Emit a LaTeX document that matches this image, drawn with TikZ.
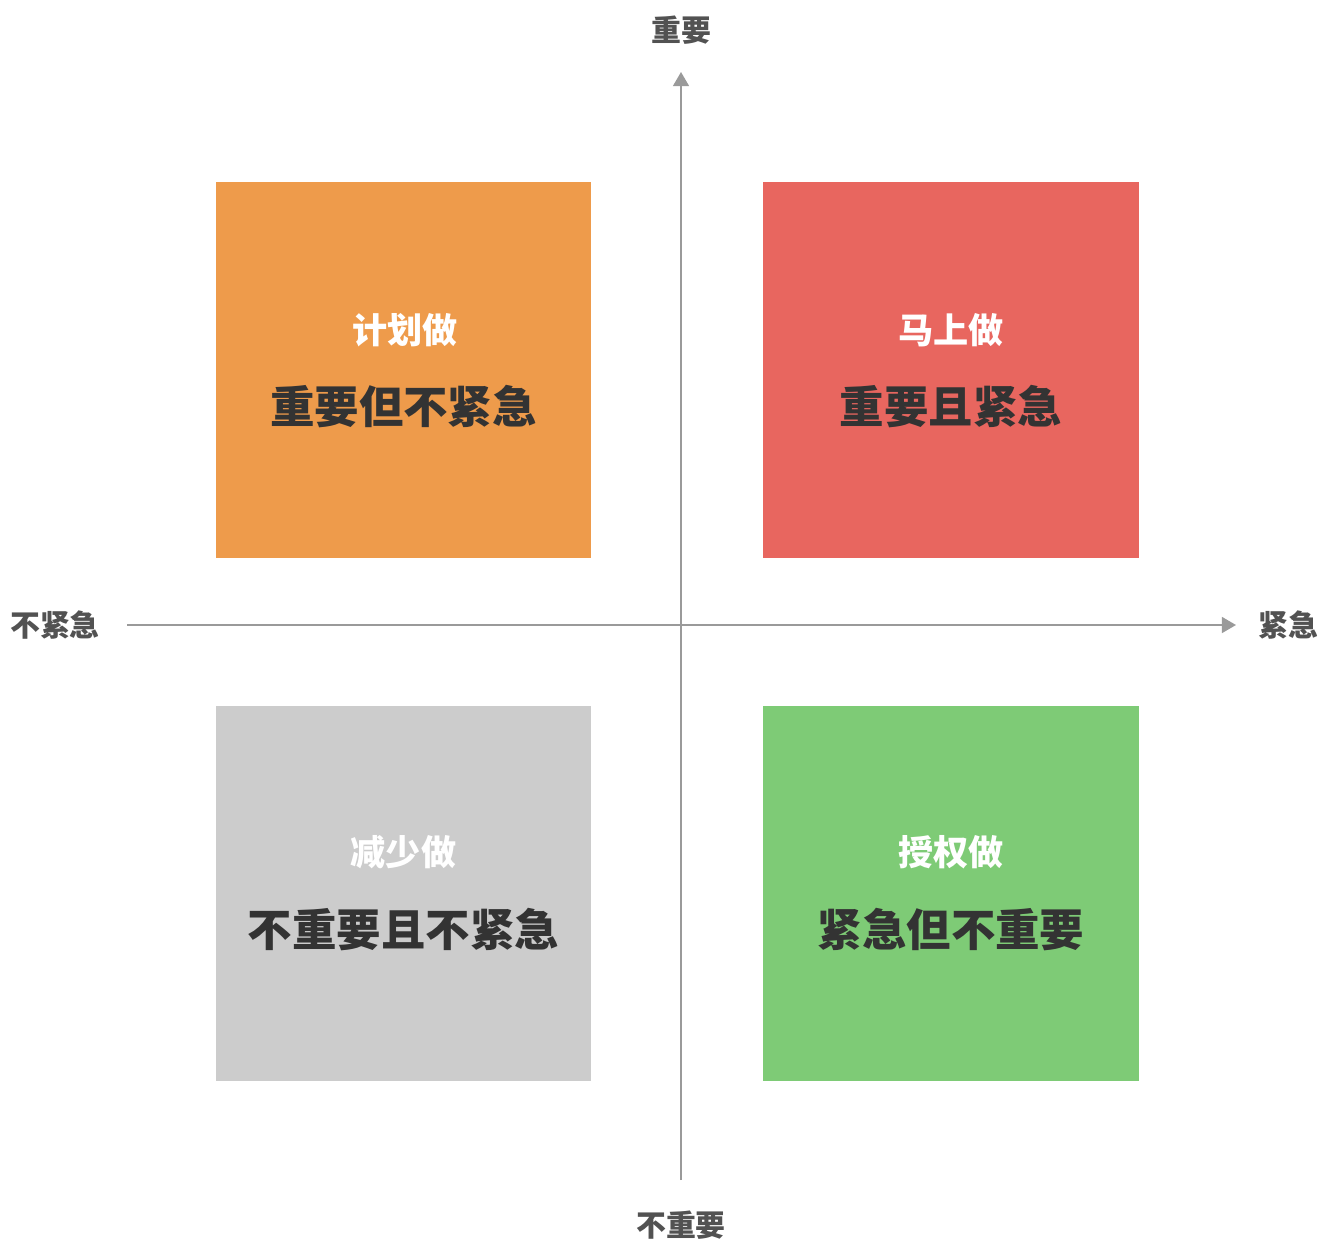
\documentclass[tikz,border=0pt]{standalone}
\usepackage{fontspec}
\setmainfont{Noto Sans CJK SC}
\usepackage{tikz}
\usetikzlibrary{arrows.meta}
\definecolor{planorange}{HTML}{EE9B4B}
\definecolor{nowred}{HTML}{E8665F}
\definecolor{lessgray}{HTML}{CCCCCC}
\definecolor{passgreen}{HTML}{7ECB76}
\definecolor{axisgray}{HTML}{9A9A9A}
\definecolor{labeltext}{HTML}{333333}
\begin{document}
\begin{tikzpicture}[x=0.02cm,y=-0.02cm]
\tikzstyle{every node}+=[inner sep=0pt]
\tikzstyle{quad}=[minimum width=7.52cm,minimum height=7.52cm]
\tikzstyle{doit}=[text=white,font=\fontsize{20}{20}\selectfont\bfseries]
\tikzstyle{what}=[text=labeltext,font=\fontsize{25.3}{25.3}\selectfont\bfseries]
\tikzstyle{axislabel}=[text=labeltext!85,font=\fontsize{17}{17}\selectfont\bfseries]
\tikzstyle{axis}=[axisgray,line width=1.1pt,-{Triangle[length=8pt,width=9pt]}]
\useasboundingbox (0,0) rectangle (1332,1241);
% quadrants
\node [quad,fill=planorange] (plan) at (403.5,370) {};
\node [quad,fill=nowred] (now) at (951,370) {};
\node [quad,fill=lessgray] (less) at (403.5,893.5) {};
\node [quad,fill=passgreen] (pass) at (951,893.5) {};
\node [doit] (plantitle) at (405,330) {计划做};
\node [what] (plantext) at (403.5,407) {重要但不紧急};
\node [doit] (nowtitle) at (951,330) {马上做};
\node [what] (nowtext) at (951,407) {重要且紧急};
\node [doit] (lesstitle) at (403.5,852) {减少做};
\node [what] (lesstext) at (403.5,930) {不重要且不紧急};
\node [doit] (passtitle) at (951,852) {授权做};
\node [what] (passtext) at (951,930) {紧急但不重要};
% axes
\coordinate (bottomend) at (681,1180);
\coordinate (topend) at (681,72);
\coordinate (leftend) at (127,625);
\coordinate (rightend) at (1236,625);
\draw [axis] (bottomend) -- (topend);
\draw [axis] (leftend) -- (rightend);
\node [axislabel] (important) at (681,30) {重要};
\node [axislabel] (notimportant) at (681,1225) {不重要};
\node [axislabel] (noturgent) at (55,625) {不紧急};
\node [axislabel] (urgent) at (1288,625) {紧急};
\end{tikzpicture}
\end{document}
